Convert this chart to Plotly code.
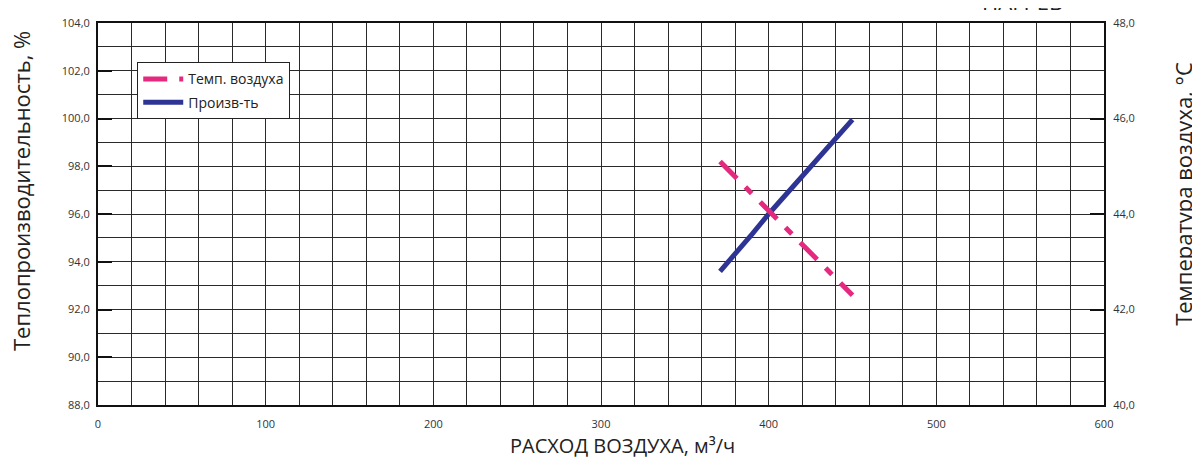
import plotly.graph_objects as go

# расход воздуха, м3/ч
air_flow = [371, 380, 390, 400, 410, 420, 430, 440, 450]
# теплопроизводительность, %
heat_output = [93.6, 94.3, 95.15, 96.0, 96.8, 97.6, 98.4, 99.2, 99.95]
# температура воздуха, °C
air_temp = [45.1, 44.78, 44.43, 44.08, 43.72, 43.37, 43.02, 42.66, 42.3]

x_ticks = [0, 100, 200, 300, 400, 500, 600]

font_main = "Open Sans, Noto Sans, sans-serif"
grid_col = "#2a2a2a"

fig = go.Figure()

fig.add_trace(go.Scatter(
    x=air_flow, y=air_temp, yaxis="y2",
    name="Темп. воздуха", legendgroup="t", mode="lines",
    line=dict(color="#e5297f", width=5, dash="24px,12px,9px,12px"),
))
fig.add_trace(go.Scatter(
    x=air_flow, y=heat_output,
    name="Произв-ть", legendgroup="p", mode="lines",
    line=dict(color="#2e3494", width=5),
))

# страница html имеет отступ 8px, поэтому поля уменьшены на 8
fig.update_layout(
    width=1192, height=457,
    margin=dict(l=90, r=96, t=15, b=60),
    paper_bgcolor="white", plot_bgcolor="white",
    separators=", ",
    font=dict(family=font_main, color="#333333", size=11),
    showlegend=True,
    legend=dict(
        x=0.039, y=0.897, xanchor="left", yanchor="top",
        bgcolor="white", bordercolor="#222222", borderwidth=1,
        font=dict(size=14, color="#222222"),
        tracegroupgap=2, itemwidth=40,
    ),
    xaxis=dict(
        range=[0, 600], tickvals=x_ticks, ticktext=[str(v) for v in x_ticks],
        showgrid=True, gridcolor=grid_col, gridwidth=1,
        minor=dict(dtick=20, showgrid=True, gridcolor=grid_col, gridwidth=1),
        showline=True, linecolor="#111111", linewidth=2, mirror=True,
        ticks="", ticklabelstandoff=8, zeroline=False, automargin=False,
    ),
    yaxis=dict(
        range=[88, 104], dtick=2, tickformat=".1f",
        showgrid=True, gridcolor=grid_col, gridwidth=1,
        minor=dict(dtick=1, showgrid=True, gridcolor=grid_col, gridwidth=1),
        showline=True, linecolor="#111111", linewidth=2,
        ticks="inside", ticklen=14, tickcolor="#111111", tickwidth=2,
        ticklabelstandoff=4, zeroline=False, automargin=False,
    ),
    yaxis2=dict(
        range=[40, 48], dtick=2, tickformat=".1f",
        overlaying="y", side="right", showgrid=False,
        showline=True, linecolor="#111111", linewidth=2,
        ticks="inside", ticklen=14, tickcolor="#111111", tickwidth=2,
        ticklabelstandoff=5, zeroline=False, automargin=False,
    ),
)

# подписи осей
fig.add_annotation(
    text="РАСХОД ВОЗДУХА, м³/ч", xref="paper", yref="paper",
    x=0.521, y=-0.107, xanchor="center", yanchor="middle",
    showarrow=False, font=dict(size=20, color="#222222", family=font_main),
)
fig.add_annotation(
    text="Теплопроизводительность, %", xref="paper", yref="paper",
    x=-0.076, y=0.559, xanchor="center", yanchor="middle", textangle=-90,
    showarrow=False, font=dict(size=22, color="#222222", family=font_main),
)
fig.add_annotation(
    text="Температура воздуха, °C", xref="paper", yref="paper",
    x=1.079, y=0.554, xanchor="center", yanchor="middle", textangle=-90,
    showarrow=False, font=dict(size=22, color="#222222", family=font_main),
)

# заголовок, обрезанный сверху
fig.add_annotation(
    text="НАГРЕВ", xref="paper", yref="paper", x=0.919, y=1.0126,
    xanchor="center", yanchor="bottom", showarrow=False,
    font=dict(size=22, color="#222222", family=font_main),
)

fig.write_html("out.html")
